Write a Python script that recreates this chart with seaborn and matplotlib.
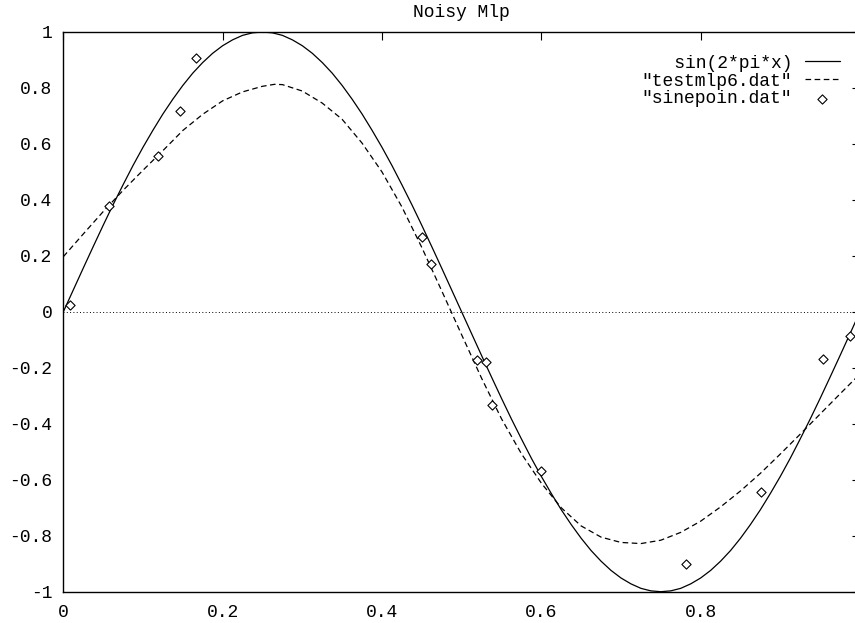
import matplotlib
matplotlib.use("Agg")
import matplotlib.pyplot as plt
import seaborn as sns
import pandas as pd

# ---- data ----
sin_x = [0.0000, 0.0125, 0.0250, 0.0375, 0.0500, 0.0625, 0.0750, 0.0875, 0.1000, 0.1125,
         0.1250, 0.1375, 0.1500, 0.1625, 0.1750, 0.1875, 0.2000, 0.2125, 0.2250, 0.2375,
         0.2500, 0.2625, 0.2750, 0.2875, 0.3000, 0.3125, 0.3250, 0.3375, 0.3500, 0.3625,
         0.3750, 0.3875, 0.4000, 0.4125, 0.4250, 0.4375, 0.4500, 0.4625, 0.4750, 0.4875,
         0.5000, 0.5125, 0.5250, 0.5375, 0.5500, 0.5625, 0.5750, 0.5875, 0.6000, 0.6125,
         0.6250, 0.6375, 0.6500, 0.6625, 0.6750, 0.6875, 0.7000, 0.7125, 0.7250, 0.7375,
         0.7500, 0.7625, 0.7750, 0.7875, 0.8000, 0.8125, 0.8250, 0.8375, 0.8500, 0.8625,
         0.8750, 0.8875, 0.9000, 0.9125, 0.9250, 0.9375, 0.9500, 0.9625, 0.9750, 0.9875,
         0.9950]
sin_y = [0.000, 0.078, 0.156, 0.233, 0.309, 0.383, 0.454, 0.523, 0.588, 0.649,
         0.707, 0.760, 0.809, 0.853, 0.891, 0.924, 0.951, 0.972, 0.988, 0.997,
         1.000, 0.997, 0.988, 0.972, 0.951, 0.924, 0.891, 0.853, 0.809, 0.760,
         0.707, 0.649, 0.588, 0.523, 0.454, 0.383, 0.309, 0.233, 0.156, 0.078,
         0.000, -0.078, -0.156, -0.233, -0.309, -0.383, -0.454, -0.523, -0.588, -0.649,
         -0.707, -0.760, -0.809, -0.853, -0.891, -0.924, -0.951, -0.972, -0.988, -0.997,
         -1.000, -0.997, -0.988, -0.972, -0.951, -0.924, -0.891, -0.853, -0.809, -0.760,
         -0.707, -0.649, -0.588, -0.523, -0.454, -0.383, -0.309, -0.233, -0.156, -0.078,
         -0.031]

mlp_x = [0.000, 0.025, 0.050, 0.075, 0.100, 0.125, 0.150, 0.175, 0.200, 0.225,
         0.250, 0.265, 0.275, 0.300, 0.325, 0.350, 0.375, 0.400, 0.425, 0.450,
         0.475, 0.500, 0.525, 0.550, 0.575, 0.600, 0.625, 0.650, 0.675, 0.700,
         0.725, 0.750, 0.775, 0.800, 0.825, 0.850, 0.875, 0.900, 0.925, 0.950,
         0.975, 0.995]
mlp_y = [0.197, 0.278, 0.358, 0.434, 0.506, 0.576, 0.648, 0.706, 0.754, 0.786,
         0.806, 0.813, 0.812, 0.789, 0.746, 0.688, 0.603, 0.500, 0.375, 0.230,
         0.075, -0.082, -0.237, -0.382, -0.507, -0.612, -0.700, -0.765, -0.805, -0.824,
         -0.828, -0.816, -0.788, -0.748, -0.697, -0.640, -0.577, -0.508, -0.437, -0.365,
         -0.293, -0.236]

pts_x = [0.009, 0.057, 0.119, 0.146, 0.167, 0.450, 0.461, 0.519, 0.531, 0.538,
         0.600, 0.781, 0.876, 0.954, 0.987]
pts_y = [0.025, 0.379, 0.556, 0.718, 0.907, 0.269, 0.170, -0.171, -0.179, -0.332,
         -0.568, -0.901, -0.645, -0.167, -0.085]

labels = ["sin(2*pi*x)", '"testmlp6.dat"', '"sinepoin.dat"']
title = "Noisy Mlp"
xticks = [0, 0.2, 0.4, 0.6, 0.8]
xtick_labels = ["0", "0.2", "0.4", "0.6", "0.8"]
yticks = [-1, -0.8, -0.6, -0.4, -0.2, 0, 0.2, 0.4, 0.6, 0.8, 1]
ytick_labels = ["-1", "-0.8", "-0.6", "-0.4", "-0.2", "0", "0.2", "0.4", "0.6", "0.8", "1"]

# ---- style ----
sns.set_theme(style="white")
plt.rcParams["font.family"] = ["Liberation Mono", "DejaVu Sans Mono"]
plt.rcParams["axes.unicode_minus"] = False

fig = plt.figure(figsize=(8.55, 6.23), dpi=100)
W, H = 855.0, 623.0
left_px, right_px, top_px, bot_px = 63.3, 860.0, 32.0, 591.7
ax = fig.add_axes([left_px / W, 1 - bot_px / H, (right_px - left_px) / W, (bot_px - top_px) / H])

width = max(len(l) for l in labels)
padded = [l.rjust(width) for l in labels]

df_sin = pd.DataFrame({"x": sin_x, "y": sin_y})
df_mlp = pd.DataFrame({"x": mlp_x, "y": mlp_y})
df_pts = pd.DataFrame({"x": pts_x, "y": pts_y})

ax.axhline(0, color="black", lw=0.7, linestyle=(0, (1, 2.4)), zorder=1)

sns.lineplot(data=df_sin, x="x", y="y", ax=ax, color="black", lw=0.9,
             sort=False, estimator=None, label=padded[0])
sns.lineplot(data=df_mlp, x="x", y="y", ax=ax, color="black", lw=0.9,
             sort=False, estimator=None, label=padded[1])
ax.lines[-1].set_dashes((4.5, 2.8))
sns.scatterplot(data=df_pts, x="x", y="y", ax=ax, marker="D", s=22,
                facecolor="white", edgecolor="black", linewidth=0.8,
                label=padded[2], zorder=5)

ax.set_xlim(0, 1)
ax.set_ylim(-1, 1)
ax.set_xticks(xticks)
ax.set_xticklabels(xtick_labels)
ax.set_yticks(yticks)
ax.set_yticklabels(ytick_labels)
ax.set_xlabel("")
ax.set_ylabel("")
ax.tick_params(axis="both", direction="in", length=6, width=0.8, colors="black",
               labelsize=13, top=True, right=True, pad=8)
ax.tick_params(axis="x", pad=9)
for s in ax.spines.values():
    s.set_color("black")
    s.set_linewidth(1.0)
    s.set_visible(True)

ax.set_title(title, fontsize=13, pad=10.5, color="black")

leg = ax.legend(loc="upper right", bbox_to_anchor=(0.975, 0.9596), frameon=False,
                markerfirst=False, handlelength=1.95, handletextpad=0.7,
                labelspacing=0.05, borderpad=0, borderaxespad=0,
                fontsize=13, numpoints=1)
for t in leg.get_texts():
    t.set_color("black")

fig.savefig("out.png", dpi=100)
